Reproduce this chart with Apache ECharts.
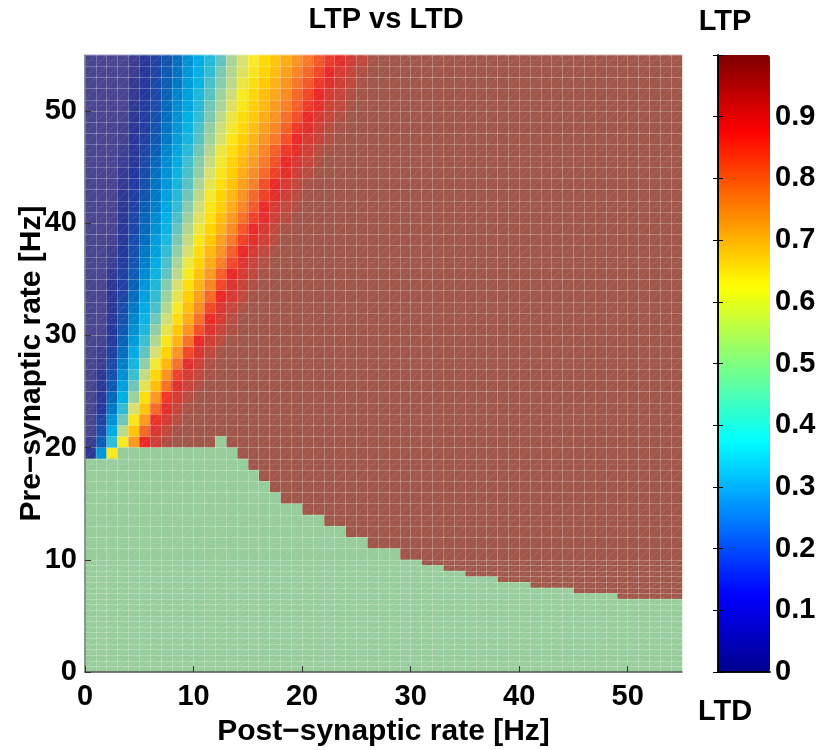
<!DOCTYPE html>
<html>
<head>
<meta charset="utf-8">
<script src="https://cdn.jsdelivr.net/npm/echarts@6/dist/echarts.min.js"></script>
<style>
  html, body { margin: 0; padding: 0; background: #fff; }
  #chart { width: 822px; height: 750px; }
</style>
</head>
<body>
<div id="chart"></div>
<script>
// Post-synaptic rate cells (1 Hz wide) and pre-synaptic half-rows (0.5 Hz tall)
const postCells = Array.from({ length: 55 }, (_, i) => String(i));
const preHalfRows = Array.from({ length: 110 }, (_, i) => String(i / 2));

// Upper edge (Hz) of the "no change" region for each post-synaptic column
const noChangeTop = [
  19, 19, 19, 20, 20, 20, 20, 20, 20, 20,
  20, 20, 21, 20, 19, 18, 17, 16, 15, 15,
  14, 14, 13, 13, 12, 12, 11, 11, 11, 10,
  10, 9.5, 9.5, 9, 9, 8.5, 8.5, 8.5, 8, 8,
  8, 7.5, 7.5, 7.5, 7.5, 7, 7, 7, 7, 6.5,
  6.5, 6.5, 6.5, 6.5, 6.5
];

// LTP/LTD index per 1 Hz pre-synaptic row (rows 19..54), from 0 Hz post upward;
// columns past the end of a row are fully potentiated (1)
const firstBandRow = 19;
const bandRows = [
  [0.05, 0.3, 0.6],
  [0.03, 0.2, 0.4, 0.6, 0.75, 0.9, 0.94, 0.98],
  [0, 0.16, 0.34, 0.52, 0.68, 0.82, 0.92, 0.96, 0.99],
  [0, 0.13, 0.29, 0.45, 0.61, 0.75, 0.89, 0.93, 0.97],
  [0, 0.1, 0.25, 0.4, 0.55, 0.68, 0.82, 0.91, 0.95, 0.99],
  [0, 0.08, 0.22, 0.35, 0.49, 0.63, 0.75, 0.88, 0.93, 0.97],
  [0, 0.06, 0.19, 0.32, 0.45, 0.57, 0.69, 0.81, 0.91, 0.95, 0.98],
  [0, 0.05, 0.17, 0.29, 0.41, 0.53, 0.64, 0.76, 0.87, 0.93, 0.96, 0.99],
  [0, 0.03, 0.15, 0.26, 0.37, 0.48, 0.59, 0.7, 0.81, 0.91, 0.94, 0.98],
  [0, 0.02, 0.13, 0.23, 0.34, 0.44, 0.55, 0.65, 0.76, 0.86, 0.92, 0.96, 0.99],
  [0, 0.01, 0.11, 0.21, 0.31, 0.41, 0.51, 0.61, 0.71, 0.81, 0.9, 0.94, 0.97],
  [0, 0, 0.1, 0.19, 0.29, 0.38, 0.48, 0.57, 0.67, 0.76, 0.85, 0.92, 0.95, 0.98],
  [0, 0, 0.08, 0.17, 0.27, 0.36, 0.45, 0.54, 0.63, 0.72, 0.81, 0.9, 0.93, 0.97],
  [0, 0, 0.07, 0.16, 0.25, 0.34, 0.42, 0.51, 0.6, 0.69, 0.77, 0.86, 0.92, 0.95, 0.98],
  [0, 0, 0.06, 0.14, 0.23, 0.32, 0.4, 0.49, 0.57, 0.66, 0.74, 0.82, 0.9, 0.93, 0.96, 0.99],
  [0, 0, 0.05, 0.13, 0.21, 0.3, 0.38, 0.47, 0.55, 0.63, 0.71, 0.78, 0.86, 0.92, 0.95, 0.98],
  [0, 0, 0.04, 0.12, 0.2, 0.28, 0.36, 0.44, 0.52, 0.6, 0.68, 0.75, 0.83, 0.9, 0.93, 0.96, 0.99],
  [0, 0, 0.03, 0.11, 0.18, 0.26, 0.34, 0.42, 0.5, 0.58, 0.65, 0.72, 0.79, 0.86, 0.92, 0.95, 0.98],
  [0, 0, 0.02, 0.1, 0.17, 0.25, 0.32, 0.4, 0.48, 0.55, 0.63, 0.7, 0.76, 0.83, 0.9, 0.93, 0.96, 0.99],
  [0, 0, 0.01, 0.09, 0.16, 0.23, 0.31, 0.38, 0.46, 0.53, 0.61, 0.67, 0.74, 0.8, 0.87, 0.91, 0.94, 0.97],
  [0, 0, 0, 0.08, 0.15, 0.22, 0.29, 0.36, 0.44, 0.51, 0.58, 0.65, 0.71, 0.77, 0.84, 0.9, 0.93, 0.96, 0.99],
  [0, 0, 0, 0.07, 0.14, 0.21, 0.28, 0.35, 0.42, 0.49, 0.56, 0.62, 0.69, 0.75, 0.81, 0.87, 0.91, 0.94, 0.97],
  [0, 0, 0, 0.06, 0.13, 0.2, 0.26, 0.33, 0.4, 0.47, 0.54, 0.61, 0.66, 0.72, 0.78, 0.84, 0.9, 0.93, 0.96, 0.98],
  [0, 0, 0, 0.05, 0.12, 0.18, 0.25, 0.32, 0.39, 0.45, 0.52, 0.59, 0.65, 0.7, 0.76, 0.82, 0.87, 0.91, 0.94, 0.97],
  [0, 0, 0, 0.04, 0.11, 0.17, 0.24, 0.3, 0.37, 0.43, 0.5, 0.57, 0.63, 0.68, 0.74, 0.79, 0.85, 0.9, 0.93, 0.96, 0.99],
  [0, 0, 0, 0.04, 0.1, 0.16, 0.23, 0.29, 0.36, 0.42, 0.48, 0.55, 0.61, 0.66, 0.72, 0.77, 0.82, 0.87, 0.91, 0.94, 0.97],
  [0, 0, 0, 0.03, 0.09, 0.15, 0.22, 0.28, 0.34, 0.41, 0.47, 0.53, 0.59, 0.65, 0.7, 0.75, 0.8, 0.85, 0.9, 0.93, 0.95, 0.98],
  [0, 0, 0, 0.02, 0.08, 0.14, 0.2, 0.27, 0.33, 0.39, 0.45, 0.51, 0.58, 0.63, 0.68, 0.73, 0.78, 0.83, 0.88, 0.91, 0.94, 0.97, 0.99],
  [0, 0, 0, 0.01, 0.07, 0.13, 0.19, 0.25, 0.31, 0.37, 0.43, 0.49, 0.55, 0.61, 0.66, 0.71, 0.76, 0.8, 0.85, 0.9, 0.93, 0.95, 0.98],
  [0, 0, 0, 0.01, 0.06, 0.12, 0.18, 0.24, 0.3, 0.36, 0.42, 0.48, 0.54, 0.59, 0.64, 0.69, 0.74, 0.78, 0.83, 0.88, 0.91, 0.94, 0.97, 0.99],
  [0, 0, 0, 0, 0.06, 0.12, 0.17, 0.23, 0.29, 0.35, 0.4, 0.46, 0.52, 0.58, 0.63, 0.67, 0.72, 0.76, 0.81, 0.85, 0.9, 0.93, 0.95, 0.98],
  [0, 0, 0, 0, 0.05, 0.11, 0.16, 0.22, 0.28, 0.33, 0.39, 0.45, 0.5, 0.56, 0.61, 0.66, 0.7, 0.75, 0.79, 0.83, 0.88, 0.91, 0.94, 0.96, 0.99],
  [0, 0, 0, 0, 0.04, 0.1, 0.15, 0.21, 0.27, 0.32, 0.38, 0.43, 0.49, 0.54, 0.6, 0.64, 0.69, 0.73, 0.77, 0.82, 0.86, 0.9, 0.93, 0.95, 0.98],
  [0, 0, 0, 0, 0.04, 0.09, 0.15, 0.2, 0.25, 0.31, 0.36, 0.42, 0.47, 0.52, 0.58, 0.63, 0.67, 0.71, 0.76, 0.8, 0.84, 0.88, 0.91, 0.94, 0.96, 0.99],
  [0, 0, 0, 0, 0.03, 0.08, 0.14, 0.19, 0.24, 0.3, 0.35, 0.4, 0.46, 0.51, 0.56, 0.61, 0.65, 0.69, 0.74, 0.78, 0.82, 0.86, 0.9, 0.93, 0.95, 0.98],
  [0, 0, 0, 0, 0.03, 0.08, 0.13, 0.18, 0.23, 0.29, 0.34, 0.39, 0.44, 0.5, 0.55, 0.6, 0.64, 0.68, 0.72, 0.76, 0.8, 0.84, 0.88, 0.91, 0.94, 0.96, 0.99]
];

// Value assigned to the "no change" region
const noChangeValue = 0.5;

// Mesh: rows are 0.5 Hz tall below this rate, 1 Hz above it
const fineMeshLimit = 10;

// Axis tick labels
const rateTicks = [0, 10, 20, 30, 40, 50];
const barTicks = [0, 0.1, 0.2, 0.3, 0.4, 0.5, 0.6, 0.7, 0.8, 0.9];
const barTickMarks = [0, 0.1, 0.2, 0.3, 0.4, 0.5, 0.6, 0.7, 0.8, 0.9, 1];

// Cell colours (index 0..1 in steps of 0.05) and colour-bar jet scale
const cellColors = [
  '#4a4590', '#2f3794', '#25379c', '#1c48a8', '#0c5cb4', '#0078c4', '#0096d8',
  '#00afe4', '#30bcd4', '#6fc5b8', '#a8d498', '#d8e070', '#f8ea20', '#ffd400',
  '#ffb810', '#fa9a20', '#f67828', '#f25028', '#ea2a28', '#c8443a', '#a0574a'
];
const jetColors = [
  '#00008f', '#0000ff', '#0080ff', '#00ffff', '#80ff80',
  '#ffff00', '#ff8000', '#ff0000', '#800000'
];
const noChangeColor = '#96cd9b';

// Build heatmap cells
const indexCells = [];
const noChangeCells = [];
for (let c = 0; c < postCells.length; c++) {
  for (let h = 0; h < preHalfRows.length; h++) {
    const y = h / 2;
    if (y < noChangeTop[c]) {
      noChangeCells.push([c, h, noChangeValue]);
    } else {
      const row = bandRows[Math.floor(y) - firstBandRow];
      const v = row && c < row.length ? row[c] : 1;
      indexCells.push([c, h, v]);
    }
  }
}

// Mesh faces (lower-left corner and height) for the diagonal edges
const meshFaces = [];
for (let c = 0; c < postCells.length; c++) {
  for (let y = 0; y < 55; ) {
    const dy = y < fineMeshLimit ? 0.5 : 1;
    meshFaces.push([c, y, dy]);
    y += dy;
  }
}

const FONT = "'Liberation Sans', Arial, Helvetica, sans-serif";
const tickStyle = { color: '#000', fontSize: 29, fontWeight: 'bold', fontFamily: FONT };
const nameStyle = { color: '#000', fontSize: 30, fontWeight: 'bold', fontFamily: FONT };
const meshLine = { color: 'rgba(255,255,255,0.24)', width: 1 };

const chart = echarts.init(document.getElementById('chart'), null, { renderer: 'canvas' });

chart.setOption({
  animation: false,
  backgroundColor: '#fff',
  grid: [
    { left: 85, top: 55, width: 597, height: 617, outerBoundsMode: 'none', containLabel: false },
    { left: 85, top: 55, width: 597, height: 617, outerBoundsMode: 'none', containLabel: false },
    { left: 718, top: 55, width: 52, height: 617, outerBoundsMode: 'none', containLabel: false }
  ],
  xAxis: [
    {
      gridIndex: 0, type: 'category', data: postCells, z: 5,
      axisLine: { show: false }, axisTick: { show: false }, axisLabel: { show: false },
      splitLine: { show: true, interval: 0, lineStyle: meshLine }
    },
    {
      gridIndex: 1, type: 'value', min: 0, max: 55, position: 'bottom', z: 6,
      axisLine: { show: true, lineStyle: { color: '#555', width: 1.5 } },
      axisTick: { show: true, inside: true, length: 6, customValues: rateTicks, lineStyle: { color: '#333', width: 1 } },
      axisLabel: { customValues: rateTicks, margin: 10, ...tickStyle },
      splitLine: { show: false },
      name: 'Post\u2212synaptic rate [Hz]', nameLocation: 'middle', nameGap: 45,
      nameMoveOverlap: false,
      nameTextStyle: { ...nameStyle }
    },
    {
      gridIndex: 2, type: 'value', min: 0, max: 1, position: 'bottom', z: 10,
      axisLine: { show: true, lineStyle: { color: '#000', width: 1.5 } },
      axisTick: { show: false }, axisLabel: { show: false }, splitLine: { show: false }
    },
    {
      gridIndex: 2, type: 'value', min: 0, max: 1, position: 'top', z: 10,
      axisLine: { show: true, lineStyle: { color: '#000', width: 1.5 } },
      axisTick: { show: false }, axisLabel: { show: false }, splitLine: { show: false }
    }
  ],
  yAxis: [
    {
      gridIndex: 0, type: 'category', data: preHalfRows, z: 5,
      axisLine: { show: false }, axisTick: { show: false }, axisLabel: { show: false },
      splitLine: {
        show: true, lineStyle: meshLine,
        interval: (i) => i < fineMeshLimit * 2 || i % 2 === 0
      }
    },
    {
      gridIndex: 1, type: 'value', min: 0, max: 55, position: 'left', z: 6,
      axisLine: { show: true, lineStyle: { color: '#777', width: 1.5 } },
      axisTick: { show: true, inside: true, length: 6, customValues: rateTicks, lineStyle: { color: '#333', width: 1 } },
      axisLabel: { customValues: rateTicks, margin: 8, ...tickStyle },
      splitLine: { show: false },
      name: 'Pre\u2212synaptic rate [Hz]', nameLocation: 'middle', nameGap: 38, nameRotate: 90,
      nameMoveOverlap: false,
      nameTextStyle: { ...nameStyle }
    },
    {
      gridIndex: 2, type: 'value', min: 0, max: 1, position: 'right', z: 10,
      axisLine: { show: true, lineStyle: { color: '#000', width: 1.5 } },
      axisTick: { show: true, inside: true, length: 5, customValues: barTickMarks, lineStyle: { color: '#000', width: 1 } },
      axisLabel: { customValues: barTicks, margin: 5, ...tickStyle },
      splitLine: { show: false }
    },
    {
      gridIndex: 2, type: 'value', min: 0, max: 1, position: 'left', z: 10,
      axisLine: { show: true, lineStyle: { color: '#000', width: 1.5 } },
      axisTick: { show: true, inside: true, length: 5, customValues: barTickMarks, lineStyle: { color: '#000', width: 1 } },
      axisLabel: { show: false }, splitLine: { show: false }
    }
  ],
  visualMap: [{
    type: 'continuous', seriesIndex: 0, dimension: 2, min: 0, max: 1,
    inRange: { color: cellColors },
    controller: { inRange: { color: jetColors } },
    left: 718, top: 55, itemWidth: 52, itemHeight: 617, padding: 0,
    calculable: false, hoverLink: false, showLabel: false, text: null,
    orient: 'vertical'
  }],
  graphic: [
    { type: 'text', style: { text: 'LTP vs LTD', x: 386, y: 20, textAlign: 'center', textVerticalAlign: 'middle', fill: '#000', font: 'bold 29px ' + FONT } },
    { type: 'text', style: { text: 'LTP', x: 725, y: 22, textAlign: 'center', textVerticalAlign: 'middle', fill: '#000', font: 'bold 29px ' + FONT } },
    { type: 'text', style: { text: 'LTD', x: 725, y: 712, textAlign: 'center', textVerticalAlign: 'middle', fill: '#000', font: 'bold 29px ' + FONT } }
  ],
  series: [
    {
      type: 'heatmap', xAxisIndex: 0, yAxisIndex: 0, data: indexCells,
      progressive: 0, emphasis: { disabled: true }, silent: true
    },
    {
      type: 'heatmap', xAxisIndex: 0, yAxisIndex: 0, data: noChangeCells,
      itemStyle: { color: noChangeColor },
      progressive: 0, emphasis: { disabled: true }, silent: true
    },
    {
      // diagonal edge of each mesh face
      type: 'custom', xAxisIndex: 1, yAxisIndex: 1, data: meshFaces, z: 4,
      progressive: 0, silent: true, clip: true,
      renderItem: (params, api) => {
        const x = api.value(0), y = api.value(1), dy = api.value(2);
        const p0 = api.coord([x, y]);
        const p1 = api.coord([x + 1, y + dy]);
        return {
          type: 'line',
          shape: { x1: p0[0], y1: p0[1], x2: p1[0], y2: p1[1] },
          style: { stroke: 'rgba(255,255,255,0.2)', lineWidth: 1, lineDash: [1.5, 1.5] },
          silent: true
        };
      }
    }
  ]
});
</script>
</body>
</html>
